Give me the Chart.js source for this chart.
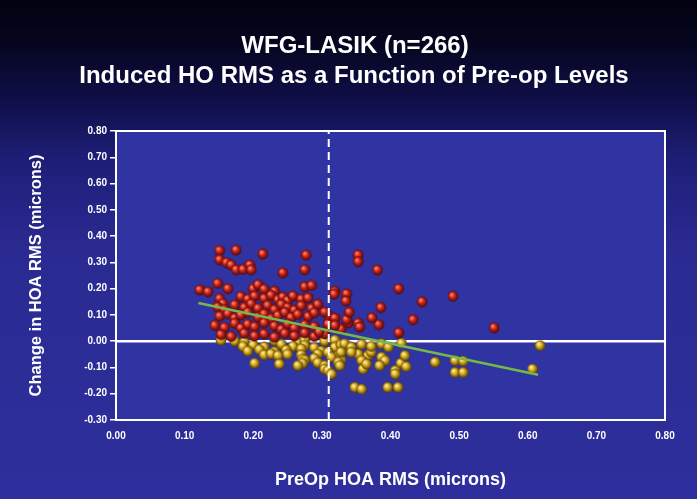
<!DOCTYPE html>
<html><head><meta charset="utf-8">
<script src="https://cdn.jsdelivr.net/npm/chart.js@4"></script>
<style>html,body{margin:0;padding:0;background:#000;}canvas{display:block}</style>
</head><body>
<canvas id="c" width="697" height="499"></canvas>
<script>
const titleLines = ["WFG-LASIK (n=266)", "Induced HO RMS as a Function of Pre-op Levels"];
const xAxisTitle = "PreOp HOA RMS (microns)";
const yAxisTitle = "Change in HOA RMS (microns)";
const xTicks = [0, 0.1, 0.2, 0.3, 0.4, 0.5, 0.6, 0.7, 0.8];
const yTicks = [-0.3, -0.2, -0.1, 0, 0.1, 0.2, 0.3, 0.4, 0.5, 0.6, 0.7, 0.8];

// Eyes with increased HOA (red)
const redPoints = [
 [0.151,0.345],[0.175,0.347],[0.214,0.332],[0.277,0.328],[0.151,0.31],[0.161,0.299],[0.168,0.29],
 [0.175,0.272],[0.185,0.273],[0.195,0.29],[0.197,0.272],[0.243,0.26],[0.275,0.272],
 [0.122,0.195],[0.134,0.188],[0.148,0.22],[0.163,0.2],[0.151,0.162],[0.156,0.143],
 [0.2,0.2],[0.207,0.215],[0.216,0.198],[0.231,0.19],[0.275,0.207],[0.285,0.212],[0.319,0.19],[0.336,0.18],
 [0.182,0.17],[0.192,0.16],[0.202,0.172],[0.216,0.163],[0.226,0.175],[0.236,0.158],[0.243,0.168],
 [0.25,0.155],[0.258,0.172],[0.27,0.16],[0.28,0.165],[0.318,0.179],[0.335,0.153],
 [0.148,0.13],[0.158,0.12],[0.173,0.138],[0.187,0.128],[0.197,0.142],[0.207,0.125],[0.221,0.136],
 [0.231,0.12],[0.241,0.14],[0.25,0.128],[0.26,0.118],[0.27,0.135],[0.285,0.125],[0.294,0.14],
 [0.151,0.095],[0.163,0.105],[0.173,0.088],[0.182,0.1],[0.192,0.11],[0.207,0.092],[0.216,0.104],
 [0.226,0.086],[0.236,0.098],[0.246,0.11],[0.255,0.09],[0.265,0.102],[0.28,0.094],[0.289,0.108],
 [0.309,0.098],[0.319,0.088],[0.304,0.111],
 [0.144,0.06],[0.158,0.052],[0.173,0.068],[0.182,0.05],[0.192,0.064],[0.202,0.055],[0.216,0.07],
 [0.231,0.058],[0.241,0.045],[0.25,0.066],[0.26,0.05],[0.275,0.062],[0.289,0.055],[0.309,0.065],
 [0.328,0.047],[0.338,0.07],[0.319,0.06],
 [0.153,0.025],[0.168,0.018],[0.187,0.03],[0.202,0.02],[0.216,0.028],[0.231,0.015],[0.246,0.03],
 [0.26,0.02],[0.275,0.032],[0.289,0.018],[0.304,0.028],[0.296,0.035],
 [0.353,0.328],[0.353,0.303],[0.381,0.271],[0.412,0.2],[0.446,0.15],[0.491,0.171],[0.386,0.128],
 [0.433,0.082],[0.551,0.051],[0.412,0.032],[0.383,0.063],[0.373,0.089],[0.353,0.069],[0.355,0.054],
 [0.336,0.082],[0.34,0.11]
];

// Eyes with decreased HOA (yellow)
const yellowPoints = [
 [0.153,0.004],[0.173,0.0],[0.187,-0.004],[0.231,0.002],[0.265,-0.003],[0.275,0.003],[0.304,0.0],[0.319,0.004],
 [0.185,-0.02],[0.2,-0.015],[0.216,-0.022],[0.241,-0.012],[0.258,-0.02],[0.275,-0.016],[0.289,-0.025],
 [0.319,-0.023],[0.328,-0.014],[0.338,-0.02],
 [0.192,-0.038],[0.209,-0.032],[0.231,-0.04],[0.248,-0.034],[0.27,-0.029],[0.299,-0.038],
 [0.216,-0.052],[0.226,-0.048],[0.236,-0.055],[0.25,-0.05],[0.27,-0.052],[0.294,-0.049],[0.309,-0.042],[0.324,-0.055],
 [0.272,-0.068],[0.289,-0.065],[0.314,-0.061],[0.328,-0.07],[0.275,-0.072],
 [0.202,-0.084],[0.238,-0.087],[0.294,-0.082],[0.304,-0.093],[0.272,-0.084],[0.265,-0.093],
 [0.304,-0.106],[0.309,-0.112],[0.314,-0.125],
 [0.618,-0.017],[0.607,-0.106],[0.465,-0.08],[0.494,-0.074],[0.506,-0.076],[0.494,-0.119],[0.506,-0.119],
 [0.415,-0.084],[0.423,-0.097],[0.407,-0.112],[0.407,-0.125],[0.348,-0.176],[0.358,-0.183],[0.396,-0.176],
 [0.411,-0.176],[0.387,-0.061],[0.392,-0.074],[0.367,-0.055],[0.372,-0.042],[0.353,-0.049],[0.358,-0.074],
 [0.421,-0.055],[0.324,-0.08],[0.326,-0.093],[0.333,-0.01],[0.343,-0.023],[0.358,-0.012],[0.372,-0.02],
 [0.387,-0.01],[0.397,-0.023],[0.416,-0.008],[0.328,-0.042],[0.343,-0.042],[0.36,-0.106],[0.365,-0.087],
 [0.384,-0.093]
];

const fitX = [0.12, 0.615];
const fitY = [0.145, -0.128];
const cutoffX = 0.31;
const zeroY = 0;

function sphere(c1, c2, c3) {
  const d = 12, r = d / 2, cv = document.createElement('canvas');
  cv.width = cv.height = d;
  const g = cv.getContext('2d');
  const gr = g.createRadialGradient(r - 1.6, r - 1.9, 0.4, r, r, r);
  gr.addColorStop(0, c1); gr.addColorStop(0.45, c2); gr.addColorStop(1, c3);
  g.fillStyle = gr; g.beginPath(); g.arc(r, r, r - 0.6, 0, Math.PI * 2); g.fill();
  return cv;
}
const redBall = sphere('#ff8a6a', '#c2201a', '#350505');
const yellowBall = sphere('#fff3a0', '#d2a41e', '#352602');

const toXY = arr => arr.map(p => ({x: p[0], y: p[1]}));
const FONT = '"Liberation Sans", Arial, sans-serif';

const bgPlugin = {
  id: 'bg',
  beforeDraw(chart) {
    const {ctx, width, height, chartArea: a} = chart;
    ctx.save();
    const gr = ctx.createLinearGradient(0, 0, 0, height);
    gr.addColorStop(0, '#020210');
    gr.addColorStop(0.08, '#05051e');
    gr.addColorStop(0.2, '#0f0f48');
    gr.addColorStop(0.32, '#1e1e78');
    gr.addColorStop(0.5, '#2a2a92');
    gr.addColorStop(1, '#2e2f9c');
    ctx.fillStyle = gr; ctx.fillRect(0, 0, width, height);
    ctx.fillStyle = '#3033a2';
    ctx.fillRect(a.left, a.top, a.right - a.left, a.bottom - a.top);
    ctx.fillStyle = '#ffffff';
    ctx.textAlign = 'center'; ctx.textBaseline = 'alphabetic';
    ctx.font = 'bold 24px ' + FONT;
    ctx.fillText(titleLines[0], 355, 53);
    ctx.font = 'bold 24px ' + FONT;
    ctx.fillText(titleLines[1], 354, 83);
    ctx.restore();
  },
  afterDraw(chart) {
    const {ctx, chartArea: a} = chart;
    ctx.save();
    ctx.strokeStyle = '#ffffff'; ctx.lineWidth = 2;
    ctx.strokeRect(a.left, a.top, a.right - a.left, a.bottom - a.top);
    ctx.restore();
  }
};

new Chart(document.getElementById('c'), {
  type: 'scatter',
  data: {
    datasets: [
      {label: 'zero', type: 'line', data: [{x: xTicks[0], y: zeroY}, {x: xTicks[xTicks.length-1], y: zeroY}],
       borderColor: '#ffffff', borderWidth: 2.5, pointRadius: 0, order: 6},
      {label: 'decrease', data: toXY(yellowPoints), pointStyle: yellowBall, order: 5},
      {label: 'increase', data: toXY(redPoints), pointStyle: redBall, order: 4},
      {label: 'cutoff', type: 'line', data: [{x: cutoffX, y: yTicks[0]}, {x: cutoffX, y: yTicks[yTicks.length-1]}],
       borderColor: '#ffffff', borderWidth: 2, borderDash: [8, 5], pointRadius: 0, order: 3},
      {label: 'fit', type: 'line', data: [{x: fitX[0], y: fitY[0]}, {x: fitX[1], y: fitY[1]}],
       borderColor: '#74b84a', borderWidth: 2.5, pointRadius: 0, order: 1}
    ]
  },
  options: {
    responsive: false, animation: false, devicePixelRatio: 1,
    layout: {padding: {top: 131, right: 32, left: 0, bottom: 0}},
    plugins: {legend: {display: false}, tooltip: {enabled: false}, title: {display: false}},
    scales: {
      x: {
        type: 'linear', min: xTicks[0], max: xTicks[xTicks.length-1],
        afterBuildTicks: s => { s.ticks = xTicks.map(v => ({value: v})); },
        afterFit: s => { s.height = 79; },
        ticks: {color: '#ffffff', font: {family: FONT, size: 10, weight: 'bold'},
                padding: 10, maxRotation: 0, callback: v => Number(v).toFixed(2)},
        grid: {display: true, drawOnChartArea: false, drawTicks: false, color: '#ffffff'},
        border: {display: true, color: '#ffffff', width: 2},
        title: {display: true, text: xAxisTitle, color: '#ffffff',
                font: {family: FONT, size: 18, weight: 'bold'}, padding: {top: 0, bottom: 8}}
      },
      y: {
        type: 'linear', min: yTicks[0], max: yTicks[yTicks.length-1],
        afterBuildTicks: s => { s.ticks = yTicks.map(v => ({value: v})); },
        afterFit: s => { s.width = 116; },
        ticks: {color: '#ffffff', font: {family: FONT, size: 10, weight: 'bold'},
                padding: 3, callback: v => Number(v).toFixed(2)},
        grid: {display: true, drawOnChartArea: false, drawTicks: true, tickLength: 6, color: '#ffffff', lineWidth: 1.5},
        border: {display: true, color: '#ffffff', width: 2},
        title: {display: true, text: yAxisTitle, color: '#ffffff',
                font: {family: FONT, size: 16.5, weight: 'bold'}, padding: {top: 27, bottom: 0}}
      }
    }
  },
  plugins: [bgPlugin]
});
</script>
</body></html>
